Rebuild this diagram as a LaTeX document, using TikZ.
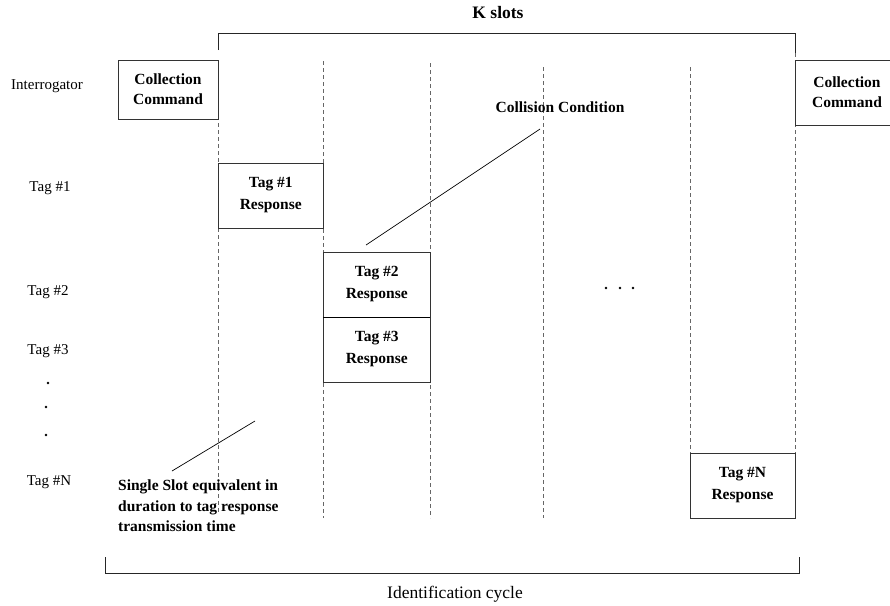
\documentclass[tikz,border=0pt]{standalone}
\usepackage{fontspec}
\setmainfont{Liberation Serif}
\begin{document}
\begin{tikzpicture}[x=1pt,y=-1pt,
  box/.style={draw=black!80, fill=white, line width=0.9pt, inner sep=0pt, align=center,
    font=\fontsize{15.5}{22}\selectfont\bfseries},
  lbl/.style={font=\fontsize{15}{18}\selectfont, inner sep=0pt},
  big/.style={font=\fontsize{17.5}{21}\selectfont, inner sep=0pt},
  boldtxt/.style={font=\fontsize{15.5}{20.5}\selectfont\bfseries, align=left, inner sep=0pt},
  slotline/.style={draw=black!60, dash pattern=on 4pt off 3pt, line width=0.8pt},
  bracket/.style={draw=black!85, line width=1pt},
  ptr/.style={draw=black, line width=0.7pt},
  dot/.style={fill=black, circle, inner sep=0pt, minimum size=2.6pt}]
\useasboundingbox (0,0) rectangle (890,605);

% slot boundary lines
\coordinate (s0t) at (218,60);   \coordinate (s0b) at (218,513);
\coordinate (s1t) at (323.5,61); \coordinate (s1b) at (323.5,518);
\coordinate (s2t) at (430,63);   \coordinate (s2b) at (430,518);
\coordinate (s3t) at (543,67);   \coordinate (s3b) at (543,518);
\coordinate (s4t) at (690,67);   \coordinate (s4b) at (690,453);
\coordinate (s5t) at (795,53);   \coordinate (s5b) at (795,453);
\foreach \i in {0,...,5} { \draw[slotline] (s\i t) -- (s\i b); }

% K slots bracket
\node[big, font=\fontsize{17.5}{21}\selectfont\bfseries] (kslots) at (498,13) {K slots};
\coordinate (ka) at (218,50); \coordinate (kb) at (218,33);
\coordinate (kc) at (795,33); \coordinate (kd) at (795,53);
\draw[bracket] (ka) -- (kb) -- (kc) -- (kd);

% identification cycle bracket
\coordinate (ia) at (105,557); \coordinate (ib) at (105,573);
\coordinate (ic) at (799,573); \coordinate (id) at (799,557);
\draw[bracket] (ia) -- (ib) -- (ic) -- (id);
\node[big] (idc) at (455,594) {Identification cycle};

% boxes
\node[box, minimum width=100pt, minimum height=59pt, font=\fontsize{15.5}{20}\selectfont\bfseries] (cc1) at (168,89.5) {Collection\\Command};
\node[box, minimum width=104pt, minimum height=65pt, font=\fontsize{15.5}{20}\selectfont\bfseries] (cc2) at (847,92.5) {Collection\\Command};
\node[box, minimum width=105.5pt, minimum height=65pt] (t1) at (270.75,195.5) {Tag \#1\\Response};
\node[box, minimum width=106.5pt, minimum height=65pt] (t2) at (376.75,284.5) {Tag \#2\\Response};
\node[box, minimum width=106.5pt, minimum height=65pt] (t3) at (376.75,349.5) {Tag \#3\\Response};
\node[box, minimum width=105pt, minimum height=65pt] (tN) at (742.5,485.5) {Tag \#N\\Response};
\draw[draw=black, line width=1.8pt] (t2.south west) -- (t2.south east);

% row labels
\node[lbl] (lint) at (47,86) {Interrogator};
\node[lbl] (l1) at (50,188) {Tag \#1};
\node[lbl] (l2) at (48,292) {Tag \#2};
\node[lbl] (l3) at (48,351) {Tag \#3};
\node[dot] (d1) at (48,383) {};
\node[dot] (d2) at (46,407) {};
\node[dot] (d3) at (46,435) {};
\node[lbl] (lN) at (49,482) {Tag \#N};

% horizontal ellipsis
\node[dot] (e1) at (606,288) {};
\node[dot] (e2) at (620,288) {};
\node[dot] (e3) at (633,288) {};

% annotations
\node[boldtxt] (coll) at (560,107) {Collision Condition};
\coordinate (cp1) at (366,245); \coordinate (cp2) at (540,129);
\draw[ptr] (cp1) -- (cp2);

\node[boldtxt, anchor=north west] (single) at (118,480) {Single Slot equivalent in\\duration to tag response\\transmission time};
\coordinate (sp1) at (172,471); \coordinate (sp2) at (255,421);
\draw[ptr] (sp1) -- (sp2);
\end{tikzpicture}
\end{document}
